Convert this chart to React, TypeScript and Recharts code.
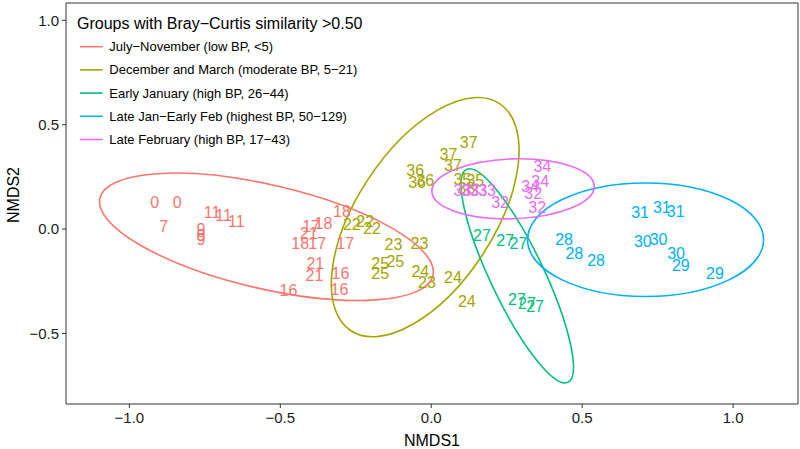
import React from 'react'
import {
  ScatterChart,
  Scatter,
  XAxis,
  YAxis,
  ReferenceArea,
} from 'recharts'

// ─── Data ─────────────────────────────────────────────────────────────────────

const groupNames = [
  'July\u2212November (low BP, <5)',
  'December and March (moderate BP, 5\u221221)',
  'Early January (high BP, 26\u221244)',
  'Late Jan\u2212Early Feb (highest BP, 50\u2212129)',
  'Late February (high BP, 17\u221243)',
]
const groupColors = ['#F8766D', '#A3A500', '#00BF7D', '#00B0F6', '#E76BF3']

type Sample = { label: string; x: number; y: number }

const julyNovember: Sample[] = [
  { label: '0', x: -0.916, y: 0.125 },
  { label: '0', x: -0.842, y: 0.125 },
  { label: '7', x: -0.886, y: 0.01 },
  { label: '9', x: -0.763, y: 0.0 },
  { label: '9', x: -0.763, y: -0.03 },
  { label: '9', x: -0.763, y: -0.05 },
  { label: '11', x: -0.726, y: 0.077 },
  { label: '11', x: -0.688, y: 0.064 },
  { label: '11', x: -0.646, y: 0.037 },
  { label: '18', x: -0.296, y: 0.085 },
  { label: '18', x: -0.357, y: 0.029 },
  { label: '17', x: -0.398, y: 0.01 },
  { label: '21', x: -0.406, y: -0.019 },
  { label: '18', x: -0.434, y: -0.07 },
  { label: '17', x: -0.378, y: -0.067 },
  { label: '17', x: -0.285, y: -0.07 },
  { label: '21', x: -0.384, y: -0.163 },
  { label: '21', x: -0.387, y: -0.224 },
  { label: '16', x: -0.301, y: -0.214 },
  { label: '16', x: -0.473, y: -0.295 },
  { label: '16', x: -0.304, y: -0.291 },
]

const decemberMarch: Sample[] = [
  { label: '22', x: -0.263, y: 0.021 },
  { label: '22', x: -0.219, y: 0.037 },
  { label: '22', x: -0.196, y: 0.005 },
  { label: '23', x: -0.125, y: -0.075 },
  { label: '23', x: -0.039, y: -0.067 },
  { label: '25', x: -0.169, y: -0.163 },
  { label: '25', x: -0.119, y: -0.155 },
  { label: '25', x: -0.169, y: -0.211 },
  { label: '24', x: -0.036, y: -0.203 },
  { label: '23', x: -0.014, y: -0.254 },
  { label: '24', x: 0.072, y: -0.23 },
  { label: '24', x: 0.118, y: -0.347 },
  { label: '36', x: -0.053, y: 0.281 },
  { label: '36', x: -0.047, y: 0.224 },
  { label: '36', x: -0.02, y: 0.233 },
  { label: '37', x: 0.124, y: 0.416 },
  { label: '37', x: 0.057, y: 0.357 },
  { label: '37', x: 0.072, y: 0.304 },
  { label: '35', x: 0.103, y: 0.237 },
  { label: '35', x: 0.146, y: 0.232 },
  { label: '38', x: 0.116, y: 0.194 },
]

const earlyJanuary: Sample[] = [
  { label: '27', x: 0.168, y: -0.032 },
  { label: '27', x: 0.245, y: -0.055 },
  { label: '27', x: 0.289, y: -0.07 },
  { label: '27', x: 0.284, y: -0.339 },
  { label: '27', x: 0.317, y: -0.355 },
  { label: '27', x: 0.344, y: -0.371 },
]

const lateJanEarlyFeb: Sample[] = [
  { label: '31', x: 0.692, y: 0.077 },
  { label: '31', x: 0.764, y: 0.101 },
  { label: '31', x: 0.81, y: 0.082 },
  { label: '30', x: 0.701, y: -0.059 },
  { label: '30', x: 0.753, y: -0.051 },
  { label: '30', x: 0.811, y: -0.115 },
  { label: '29', x: 0.827, y: -0.176 },
  { label: '29', x: 0.94, y: -0.214 },
  { label: '28', x: 0.44, y: -0.051 },
  { label: '28', x: 0.474, y: -0.115 },
  { label: '28', x: 0.546, y: -0.152 },
]

const lateFebruary: Sample[] = [
  { label: '34', x: 0.368, y: 0.299 },
  { label: '34', x: 0.361, y: 0.228 },
  { label: '34', x: 0.328, y: 0.203 },
  { label: '32', x: 0.338, y: 0.169 },
  { label: '32', x: 0.351, y: 0.102 },
  { label: '32', x: 0.228, y: 0.125 },
  { label: '33', x: 0.103, y: 0.184 },
  { label: '33', x: 0.129, y: 0.184 },
  { label: '33', x: 0.156, y: 0.184 },
  { label: '33', x: 0.185, y: 0.184 },
]

const groupSamples = [julyNovember, decemberMarch, earlyJanuary, lateJanEarlyFeb, lateFebruary]

// similarity ellipses: centre, half ranges, tilt (correlation) in data units
const ellipseCx = [-0.546, -0.02, 0.285, 0.71, 0.271]
const ellipseCy = [-0.037, 0.057, -0.224, -0.051, 0.193]
const ellipseRx = [0.553, 0.311, 0.186, 0.391, 0.269]
const ellipseRy = [0.305, 0.573, 0.513, 0.272, 0.144]
const ellipseTilt = [-0.55, 0.56, -0.85, 0, 0.08]

const xTicks = [-1, -0.5, 0, 0.5, 1]
const yTicks = [-0.5, 0, 0.5, 1]
const xDomain: [number, number] = [-1.21, 1.215]
const yDomain: [number, number] = [-0.838, 1.083]

// ─── Helpers ──────────────────────────────────────────────────────────────────

const FONT = '"Liberation Sans", Arial, Helvetica, sans-serif'
const fmt = (v: number) => v.toFixed(1).replace('-', '\u2212')

// Ellipse inscribed in the box the ReferenceArea gives us, skewed by tilt
function EllipseShape(props: any, tilt: number, color: string) {
  const { x, y, width, height } = props
  const hx = width / 2
  const hy = height / 2
  const b = -tilt * hx * hy // pixel y points down
  const a = hx * hx
  const c = hy * hy
  const mid = (a + c) / 2
  const diff = Math.sqrt(((a - c) / 2) ** 2 + b * b)
  const major = Math.sqrt(mid + diff)
  const minor = Math.sqrt(Math.max(mid - diff, 0))
  const angle = (0.5 * Math.atan2(2 * b, a - c) * 180) / Math.PI
  const cx = x + hx
  const cy = y + hy
  return (
    <ellipse
      cx={cx}
      cy={cy}
      rx={major}
      ry={minor}
      transform={`rotate(${angle} ${cx} ${cy})`}
      fill="none"
      stroke={color}
      strokeWidth={1.6}
    />
  )
}

const labelShape = (color: string) => (p: any) => (
  <text
    x={p.cx}
    y={p.cy}
    textAnchor="middle"
    dominantBaseline="central"
    fontSize={16}
    fontFamily={FONT}
    fill={color}
  >
    {p.payload.label}
  </text>
)

// ─── Component ────────────────────────────────────────────────────────────────

export default function App() {
  return (
    <div
      style={{
        position: 'absolute',
        left: 0,
        top: 0,
        width: 800,
        height: 449,
        background: '#fff',
        fontFamily: FONT,
      }}
    >
      <ScatterChart width={800} height={449} margin={{ top: 3, right: 2, left: 0, bottom: 0 }}>
        <XAxis
          type="number"
          dataKey="x"
          domain={xDomain}
          ticks={xTicks}
          allowDataOverflow
          tickFormatter={fmt}
          height={45}
          tickSize={4}
          tickMargin={4}
          axisLine={false}
          tickLine={{ stroke: '#333' }}
          tick={{ fill: '#1a1a1a', fontSize: 15, fontFamily: FONT }}
          label={{ value: 'NMDS1', position: 'insideBottom', offset: 3, fill: '#000', fontSize: 16, fontFamily: FONT }}
        />
        <YAxis
          type="number"
          dataKey="y"
          domain={yDomain}
          ticks={yTicks}
          allowDataOverflow
          tickFormatter={fmt}
          width={66}
          tickSize={4}
          tickMargin={3}
          axisLine={false}
          tickLine={{ stroke: '#333' }}
          tick={{ fill: '#1a1a1a', fontSize: 15, fontFamily: FONT }}
          label={(props: any) => {
            const vb = props.viewBox
            const tx = vb.x + 13
            const ty = 195
            return (
              <text
                x={tx}
                y={ty}
                transform={`rotate(-90 ${tx} ${ty})`}
                textAnchor="middle"
                dominantBaseline="central"
                fontSize={16}
                fontFamily={FONT}
                fill="#000"
              >
                NMDS2
              </text>
            )
          }}
        />

        {/* panel border */}
        <ReferenceArea
          x1={xDomain[0]}
          x2={xDomain[1]}
          y1={yDomain[0]}
          y2={yDomain[1]}
          fill="none"
          stroke="#333"
          strokeWidth={1}
          ifOverflow="visible"
        />

        {groupSamples.map((samples, i) => (
          <Scatter
            key={`pts-${i}`}
            data={samples}
            shape={labelShape(groupColors[i])}
            isAnimationActive={false}
          />
        ))}

        {groupColors.map((color, i) => (
          <ReferenceArea
            key={`ell-${i}`}
            x1={ellipseCx[i] - ellipseRx[i]}
            x2={ellipseCx[i] + ellipseRx[i]}
            y1={ellipseCy[i] - ellipseRy[i]}
            y2={ellipseCy[i] + ellipseRy[i]}
            ifOverflow="visible"
            shape={(p: any) => EllipseShape(p, ellipseTilt[i], color)}
          />
        ))}
      </ScatterChart>

      {/* legend inside the panel, top-left */}
      <svg
        width={420}
        height={160}
        style={{ position: 'absolute', left: 0, top: 0, pointerEvents: 'none' }}
      >
        <text x={77} y={23} dominantBaseline="central" fontSize={16} fontFamily={FONT} fill="#000">
          Groups with Bray{'\u2212'}Curtis similarity {'>'}0.50
        </text>
        {groupNames.map((name, i) => {
          const cy = 46.7 + i * 23.2
          return (
            <g key={name}>
              <line x1={80} x2={102.7} y1={cy} y2={cy} stroke={groupColors[i]} strokeWidth={1.6} />
              <text x={109.3} y={cy} dominantBaseline="central" fontSize={13} fontFamily={FONT} fill="#000">
                {name}
              </text>
            </g>
          )
        })}
      </svg>
    </div>
  )
}
